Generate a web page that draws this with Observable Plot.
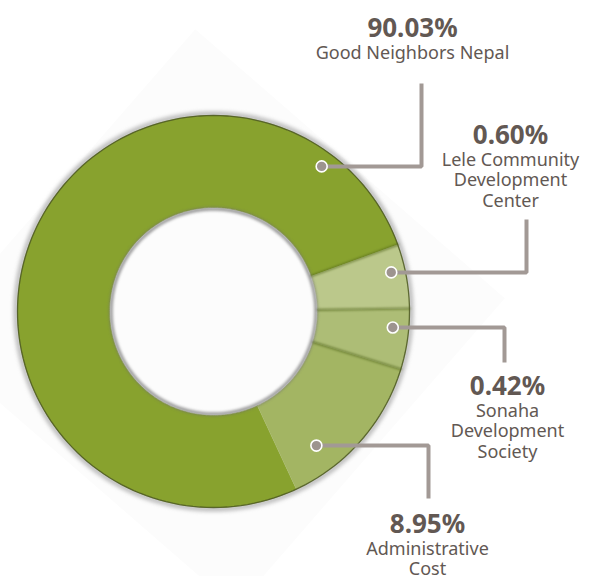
<!DOCTYPE html>
<html><head><meta charset="utf-8">
<script src="https://cdn.jsdelivr.net/npm/d3@7"></script>
<script src="https://cdn.jsdelivr.net/npm/@observablehq/plot@0.6"></script>
<style>
html,body{margin:0;padding:0;background:#fff;}
</style>
</head><body><div id="chart"></div>
<script>
// ---- data ----
const names = ["Good Neighbors Nepal", "Lele Community Development Center", "Sonaha Development Society", "Administrative Cost"];
const percentLabels = ["90.03%", "0.60%", "0.42%", "8.95%"];
// arc sizes as drawn in the picture (share of the ring, %)
const arcShares = [76.4, 5.3, 5.0, 13.3];
const nameLines = [["Good Neighbors Nepal"], ["Lele Community", "Development", "Center"], ["Sonaha", "Development", "Society"], ["Administrative", "Cost"]];

// ---- styles / layout ----
const sliceColors = ["#88a22e", "#bbc88b", "#adbd76", "#a3b563"];
const W = 590, H = 576, CX = 213, CY = 311, R = 196, RIN = 104;
const startDeg = 155;
const anchorDeg = [36.7, 77.6, 95.1, 142.5];
const anchorR = [181, 182, 180, 169];
const elbowX = [421, 526, 504, 428];
const leaderEndY = [83, 219, 362, 498];
const labelX = [412, 510, 507, 427];
const pctBaseline = [36, 143, 394, 532];
const textColor = "#625853";

const rad = d => d * Math.PI / 180;
const pt = (a, r) => ({x: CX + r * Math.sin(a), y: CY - r * Math.cos(a)});

const pie = d3.pie().sort(null).startAngle(rad(startDeg)).endAngle(rad(startDeg) + 2 * Math.PI);
const arcs = pie(arcShares);

// slice polygons
const slicePts = [];
arcs.forEach((a, i) => {
  const n = Math.max(4, Math.ceil((a.endAngle - a.startAngle) / rad(1)));
  for (let k = 0; k <= n; k++) {
    const t = a.startAngle + (a.endAngle - a.startAngle) * k / n;
    slicePts.push({...pt(t, R), name: names[i]});
  }
  for (let k = n; k >= 0; k--) {
    const t = a.startAngle + (a.endAngle - a.startAngle) * k / n;
    slicePts.push({...pt(t, RIN), name: names[i]});
  }
});

const circle = (r, cx = CX, cy = CY) => d3.range(0, 361, 2).map(d => ({x: cx + r * Math.sin(rad(d)), y: cy - r * Math.cos(rad(d))}));

// separators at slice boundaries (skip first boundary)
const sepPts = [];
arcs.slice(1).forEach((a, i) => {
  sepPts.push({...pt(a.startAngle, RIN), k: i});
  sepPts.push({...pt(a.startAngle, R), k: i});
});

// diamond background
const DCX = 215, DCY = 318, DR = 290;
const diamond = [-4, 86, 176, 266, -4].map(d => ({x: DCX + DR * Math.sin(rad(d)), y: DCY - DR * Math.cos(rad(d))}));

// anchors + leaders
const anchors = names.map((n, i) => ({name: n, ...pt(rad(anchorDeg[i]), anchorR[i])}));
const leaderPts = [];
anchors.forEach((a, i) => {
  leaderPts.push({x: a.x, y: a.y, k: i});
  leaderPts.push({x: elbowX[i], y: a.y, k: i});
  leaderPts.push({x: elbowX[i], y: leaderEndY[i], k: i});
});

// text rows
const pctRows = percentLabels.map((p, i) => ({x: labelX[i], y: pctBaseline[i], text: p}));
const nameRows = [];
nameLines.forEach((lines, i) => lines.forEach((l, j) => nameRows.push({x: labelX[i], y: pctBaseline[i] + 22 + j * 20.5, text: l})));

const chart = Plot.plot({
  width: W, height: H, margin: 0,
  x: {domain: [0, W], range: [0, W], axis: null},
  y: {domain: [0, H], range: [0, H], axis: null},
  color: {domain: names, range: sliceColors},
  style: {background: "white", overflow: "visible"},
  marks: [
    Plot.line(diamond, {x: "x", y: "y", fill: "#fcfcfc", stroke: "none"}),
    Plot.line(circle(R + 1.5), {x: "x", y: "y", stroke: "#8a8a8a", strokeWidth: 4, strokeOpacity: 0.7, imageFilter: "blur(2px)"}),
    Plot.line(slicePts, {x: "x", y: "y", z: "name", fill: "name", stroke: "name", strokeWidth: 0.6}),
    Plot.line(sepPts, {x: "x", y: "y", z: "k", stroke: "#52651a", strokeWidth: 2.2, strokeOpacity: 0.65, imageFilter: "blur(0.8px)"}),
    Plot.line(circle(R), {x: "x", y: "y", stroke: "#4c5822", strokeWidth: 1.3, strokeOpacity: 0.85}),
    Plot.line(circle(RIN - 1.5), {x: "x", y: "y", stroke: "#6e6e6e", strokeWidth: 3, strokeOpacity: 0.8, imageFilter: "blur(1.6px)"}),
    Plot.line(leaderPts, {x: "x", y: "y", z: "k", stroke: "#a29995", strokeWidth: 4, strokeLinejoin: "miter", strokeLinecap: "butt"}),
    Plot.dot(anchors, {x: "x", y: "y", r: 5.5, fill: "#9d948f", stroke: "white", strokeWidth: 1.6}),
    Plot.text(pctRows, {x: "x", y: "y", text: "text", lineAnchor: "bottom", textAnchor: "middle", fontSize: 26, fontWeight: "bold", fontFamily: "Noto Sans", fill: textColor}),
    Plot.text(nameRows, {x: "x", y: "y", text: "text", lineAnchor: "bottom", textAnchor: "middle", fontSize: 18, fontFamily: "Noto Sans", fill: textColor})
  ]
});
document.getElementById("chart").appendChild(chart);
</script>
</body></html>
